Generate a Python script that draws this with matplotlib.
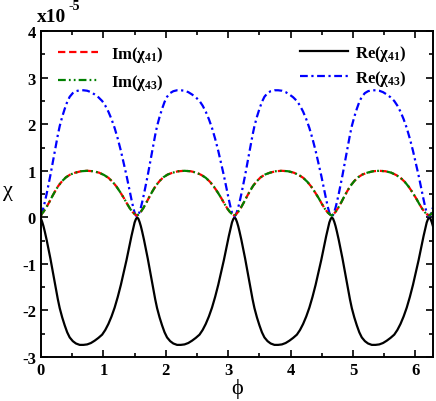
import matplotlib
matplotlib.use("Agg")
import matplotlib.pyplot as plt
from matplotlib.ticker import MultipleLocator

plt.rcParams["font.family"] = ["Liberation Serif", "DejaVu Serif"]
plt.rcParams["font.weight"] = "bold"
plt.rcParams["mathtext.fontset"] = "custom"
plt.rcParams["mathtext.rm"] = "Liberation Serif:bold"
plt.rcParams["mathtext.it"] = "Liberation Serif:bold"
plt.rcParams["mathtext.bf"] = "Liberation Serif:bold"
plt.rcParams["axes.unicode_minus"] = False

# values in units of 1e-5
phi_re = [0.00, 0.02, 0.04, 0.06, 0.09, 0.12, 0.15, 0.18, 0.21, 0.24, 0.27, 0.30, 0.34, 0.38, 0.42, 0.46, 0.51, 0.56, 0.62,
          0.68, 0.74, 0.80, 0.86, 0.92, 0.98, 1.03, 1.08, 1.13, 1.18, 1.23, 1.28, 1.33, 1.37, 1.41, 1.45, 1.48, 1.50, 1.52,
          1.54, 1.56, 1.58, 1.60, 1.62, 1.65, 1.68, 1.71, 1.74, 1.77, 1.80, 1.83, 1.86, 1.90, 1.94, 1.98, 2.02, 2.07, 2.12,
          2.18, 2.24, 2.30, 2.36, 2.42, 2.48, 2.54, 2.59, 2.64, 2.69, 2.74, 2.79, 2.84, 2.89, 2.93, 2.97, 3.01, 3.04, 3.06, 3.08,
          3.10, 3.12, 3.14, 3.16, 3.18, 3.21, 3.24, 3.27, 3.30, 3.33, 3.36, 3.39, 3.42, 3.46, 3.50, 3.54, 3.58, 3.63, 3.68,
          3.74, 3.80, 3.86, 3.92, 3.98, 4.04, 4.10, 4.15, 4.20, 4.25, 4.30, 4.35, 4.40, 4.45, 4.49, 4.53, 4.57, 4.60, 4.62, 4.64,
          4.66, 4.68, 4.70, 4.72, 4.74, 4.77, 4.80, 4.83, 4.86, 4.89, 4.92, 4.95, 4.98, 5.02, 5.06, 5.10, 5.14, 5.19, 5.24,
          5.30, 5.36, 5.42, 5.48, 5.54, 5.60, 5.66, 5.71, 5.76, 5.81, 5.86, 5.91, 5.96, 6.01, 6.05, 6.09, 6.13, 6.16, 6.18, 6.20,
          6.22, 6.24, 6.26, 6.28]
re41 = [-0.03, -0.10, -0.19, -0.30, -0.48, -0.68, -0.88, -1.10, -1.32, -1.54, -1.76, -1.95, -2.15, -2.32, -2.47, -2.58, -2.66, -2.71, -2.74,
        -2.74, -2.73, -2.70, -2.65, -2.59, -2.52, -2.42, -2.29, -2.13, -1.94, -1.71, -1.45, -1.16, -0.92, -0.66, -0.40, -0.22, -0.11, -0.04,
        0.00, -0.03, -0.10, -0.19, -0.30, -0.48, -0.68, -0.88, -1.10, -1.32, -1.54, -1.76, -1.95, -2.15, -2.32, -2.47, -2.58, -2.66, -2.71,
        -2.74, -2.74, -2.73, -2.70, -2.65, -2.59, -2.52, -2.42, -2.29, -2.13, -1.94, -1.71, -1.45, -1.16, -0.92, -0.66, -0.40, -0.22, -0.11, -0.04,
        0.00, -0.03, -0.10, -0.19, -0.30, -0.48, -0.68, -0.88, -1.10, -1.32, -1.54, -1.76, -1.95, -2.15, -2.32, -2.47, -2.58, -2.66, -2.71,
        -2.74, -2.74, -2.73, -2.70, -2.65, -2.59, -2.52, -2.42, -2.29, -2.13, -1.94, -1.71, -1.45, -1.16, -0.92, -0.66, -0.40, -0.22, -0.11, -0.04,
        0.00, -0.03, -0.10, -0.19, -0.30, -0.48, -0.68, -0.88, -1.10, -1.32, -1.54, -1.76, -1.95, -2.15, -2.32, -2.47, -2.58, -2.66, -2.71,
        -2.74, -2.74, -2.73, -2.70, -2.65, -2.59, -2.52, -2.42, -2.29, -2.13, -1.94, -1.71, -1.45, -1.16, -0.92, -0.66, -0.40, -0.22, -0.11, -0.04,
        0.00, -0.03, -0.10, -0.19]
re43 = [0.05, 0.12, 0.21, 0.32, 0.50, 0.70, 0.90, 1.12, 1.34, 1.56, 1.77, 1.96, 2.16, 2.33, 2.48, 2.59, 2.67, 2.71, 2.73,
        2.73, 2.72, 2.69, 2.64, 2.58, 2.50, 2.40, 2.27, 2.11, 1.92, 1.69, 1.43, 1.14, 0.90, 0.64, 0.38, 0.20, 0.10, 0.04,
        0.02, 0.05, 0.12, 0.21, 0.32, 0.50, 0.70, 0.90, 1.12, 1.34, 1.56, 1.77, 1.96, 2.16, 2.33, 2.48, 2.59, 2.67, 2.71,
        2.73, 2.73, 2.72, 2.69, 2.64, 2.58, 2.50, 2.40, 2.27, 2.11, 1.92, 1.69, 1.43, 1.14, 0.90, 0.64, 0.38, 0.20, 0.10, 0.04,
        0.02, 0.05, 0.12, 0.21, 0.32, 0.50, 0.70, 0.90, 1.12, 1.34, 1.56, 1.77, 1.96, 2.16, 2.33, 2.48, 2.59, 2.67, 2.71,
        2.73, 2.73, 2.72, 2.69, 2.64, 2.58, 2.50, 2.40, 2.27, 2.11, 1.92, 1.69, 1.43, 1.14, 0.90, 0.64, 0.38, 0.20, 0.10, 0.04,
        0.02, 0.05, 0.12, 0.21, 0.32, 0.50, 0.70, 0.90, 1.12, 1.34, 1.56, 1.77, 1.96, 2.16, 2.33, 2.48, 2.59, 2.67, 2.71,
        2.73, 2.73, 2.72, 2.69, 2.64, 2.58, 2.50, 2.40, 2.27, 2.11, 1.92, 1.69, 1.43, 1.14, 0.90, 0.64, 0.38, 0.20, 0.10, 0.04,
        0.02, 0.05, 0.12, 0.21]

phi_im = [0.00, 0.01, 0.04, 0.08, 0.13, 0.18, 0.23, 0.28, 0.34, 0.40, 0.47, 0.55, 0.64, 0.74, 0.84, 0.93, 1.01, 1.08,
          1.15, 1.21, 1.27, 1.33, 1.38, 1.43, 1.47, 1.51,
          1.54, 1.57, 1.60, 1.64, 1.69, 1.74, 1.79, 1.84, 1.90, 1.96, 2.03, 2.11, 2.20, 2.30, 2.40, 2.49, 2.57, 2.64,
          2.71, 2.77, 2.83, 2.89, 2.94, 2.99, 3.03, 3.07,
          3.10, 3.13, 3.16, 3.20, 3.25, 3.30, 3.35, 3.40, 3.46, 3.52, 3.59, 3.67, 3.76, 3.86, 3.96, 4.05, 4.13, 4.20,
          4.27, 4.33, 4.39, 4.45, 4.50, 4.55, 4.59, 4.63,
          4.66, 4.69, 4.72, 4.76, 4.81, 4.86, 4.91, 4.96, 5.02, 5.08, 5.15, 5.23, 5.32, 5.42, 5.52, 5.61, 5.69, 5.76,
          5.83, 5.89, 5.95, 6.01, 6.06, 6.11, 6.15, 6.19,
          6.22, 6.25, 6.28]
im41 = [0.03, 0.07, 0.12, 0.20, 0.32, 0.45, 0.57, 0.68, 0.78, 0.86, 0.92, 0.96, 0.99, 1.00, 0.99, 0.96, 0.91, 0.85,
        0.76, 0.66, 0.54, 0.41, 0.29, 0.18, 0.11, 0.06,
        0.04, 0.07, 0.12, 0.20, 0.32, 0.45, 0.57, 0.68, 0.78, 0.86, 0.92, 0.96, 0.99, 1.00, 0.99, 0.96, 0.91, 0.85,
        0.76, 0.66, 0.54, 0.41, 0.29, 0.18, 0.11, 0.06,
        0.04, 0.07, 0.12, 0.20, 0.32, 0.45, 0.57, 0.68, 0.78, 0.86, 0.92, 0.96, 0.99, 1.00, 0.99, 0.96, 0.91, 0.85,
        0.76, 0.66, 0.54, 0.41, 0.29, 0.18, 0.11, 0.06,
        0.04, 0.07, 0.12, 0.20, 0.32, 0.45, 0.57, 0.68, 0.78, 0.86, 0.92, 0.96, 0.99, 1.00, 0.99, 0.96, 0.91, 0.85,
        0.76, 0.66, 0.54, 0.41, 0.29, 0.18, 0.11, 0.06,
        0.04, 0.07, 0.11]
im43 = list(im41)  # the two imaginary parts lie on top of each other

fig = plt.figure(figsize=(4.36, 4.02), dpi=100)
ax = fig.add_axes([0.094, 0.1095, 0.899, 0.8105])

l_re41, = ax.plot(phi_re, re41, color="black", lw=1.6, label="Re(χ$_{41}$)")
l_re43, = ax.plot(phi_re, re43, color="blue", lw=1.6, dashes=(3.5, 1.6, 1.0, 1.6), label="Re(χ$_{43}$)")
l_im41, = ax.plot(phi_im, im41, color="red", lw=1.6, dashes=(3.3, 1.7), label="Im(χ$_{41}$)")
l_im43, = ax.plot(phi_im, im43, color="green", lw=1.6, dashes=(3.5, 1.4, 0.8, 1.4, 0.8, 1.4), label="Im(χ$_{43}$)")

ax.set_xlim(0, 6.28)
ax.set_ylim(-3, 4)
ax.xaxis.set_major_locator(MultipleLocator(1))
ax.xaxis.set_minor_locator(MultipleLocator(0.5))
ax.yaxis.set_major_locator(MultipleLocator(1))
ax.yaxis.set_minor_locator(MultipleLocator(0.5))
ax.tick_params(which="both", direction="in", top=True, right=True, labelsize=12, width=1.2)
ax.tick_params(which="major", length=5)
ax.tick_params(which="minor", length=3)
for lab in ax.get_xticklabels() + ax.get_yticklabels():
    lab.set_fontweight("bold")
for s in ax.spines.values():
    s.set_linewidth(1.4)

ax.set_xlabel("ϕ", fontsize=16, fontweight="normal", labelpad=0)
ax.set_ylabel("χ", fontsize=16, fontweight="normal", rotation=0, ha="center", va="center")
ax.yaxis.set_label_coords(-0.085, 0.51)
fig.text(0.085, 0.945, "x10", fontsize=14, fontweight="bold", ha="left", va="baseline")
fig.text(0.156, 0.975, "-5", fontsize=10, fontweight="bold", ha="left", va="baseline")

leg1 = ax.legend(handles=[l_im41, l_im43], loc="upper left", bbox_to_anchor=(0.043, 0.962), frameon=False,
                 borderpad=0, borderaxespad=0, handlelength=2.4, handletextpad=0.78, labelspacing=0.5, fontsize=12)
ax.add_artist(leg1)
ax.legend(handles=[l_re41, l_re43], loc="upper left", bbox_to_anchor=(0.661, 0.964), frameon=False,
          borderpad=0, borderaxespad=0, handlelength=2.9, handletextpad=0.42, labelspacing=0.3, fontsize=12)

fig.savefig("out.png", dpi=100)
